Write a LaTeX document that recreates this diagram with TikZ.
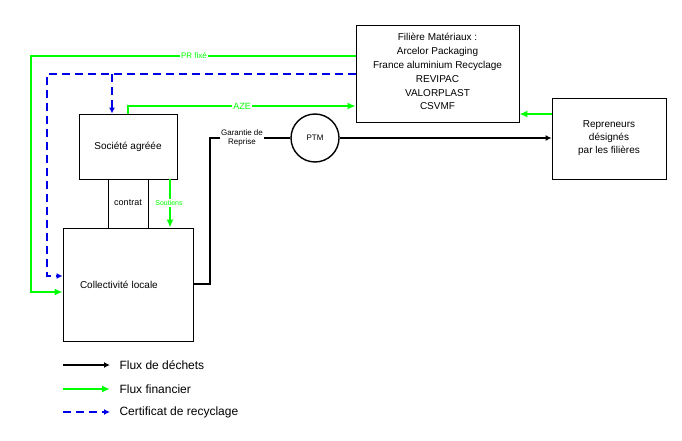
\documentclass[tikz,border=0pt]{standalone}
\usepackage{fontspec}
\setmainfont{Liberation Sans}
\usetikzlibrary{arrows.meta}
\definecolor{lgreen}{RGB}{0,255,0}
\definecolor{dblue}{RGB}{0,0,230}
\begin{document}
\begin{tikzpicture}[x=1pt,y=-1pt,
 box/.style={draw,thick,fill=white,inner sep=0,align=center,font=\fontsize{10}{13}\selectfont},
 blk/.style={line width=1.6pt,-{Latex[length=6pt,width=6pt]}},
 grn/.style={lgreen,line width=2.6pt,-{Latex[length=8pt,width=7pt]}},
 blu/.style={dblue,line width=1.6pt,dash pattern=on 8pt off 5pt,-{Latex[length=6pt,width=6pt]}},
 lab/.style={fill=white,inner sep=1pt,font=\fontsize{8}{9}\selectfont}]
\useasboundingbox (0,0) rectangle (682,441);
\node[box,minimum width=163,minimum height=97] (fil) at (437.5,73.5) {};
\node[align=center,font=\fontsize{10}{13.8}\selectfont,anchor=north] at (437.5,30) {Filière Matériaux :\\Arcelor Packaging\\France aluminium Recyclage\\REVIPAC\\VALORPLAST\\CSVMF};
\node[box,minimum width=114,minimum height=81] (rep) at (609,138.5) {Repreneurs\\désignés\\par les filières};
\node[box,minimum width=98,minimum height=65] (soc) at (128,146.5) {Société agréée};
\node[box,minimum width=130,minimum height=113,text width=120,align=left] (col) at (128,284.5) {\hspace{12pt}Collectivité locale};
\node[draw,line width=1.4pt,circle,minimum size=48,inner sep=0,font=\fontsize{8}{9}\selectfont] (ptm) at (315,138) {PTM};
% contrat
\draw[thick] (108,179) -- (108,228) (148,179) -- (148,228);
\node[font=\fontsize{9}{10}\selectfont] (ctr) at (128,203) {contrat};
% PR fixé
\coordinate (pr1) at (356,56);
\draw[grn] (pr1) -- (31,56) -- (31,292) -- (col.west|-0,292);
\node[lab,text=lgreen] (prl) at (194,56) {PR fixé};
% blue dashed
\draw[blu] (fil.west|-0,74) -- (47,74) -- (47,276) -- (col.west|-0,276);
\draw[blu] (112,74) -- (soc.north-|112,0);
% AZE
\draw[grn] (soc.north-|128,0) -- (128,106) -- (fil.west|-0,106);
\node[lab,text=lgreen,font=\fontsize{9}{10}\selectfont] (aze) at (242,106) {AZE};
% repreneurs -> filiere
\draw[grn] (rep.west|-0,114) -- (fil.east|-0,114);
% Soutiens
\draw[grn] (soc.south-|170,0) -- (col.north-|170,0);
\node[lab,text=lgreen,font=\fontsize{7}{8}\selectfont] (sou) at (169,203) {Soutiens};
% black flow
\draw[line width=1.6pt] (col.east|-0,284) -- (210,284) -- (210,138) -- (ptm.west);
\node[lab,align=center] (gar) at (242,138) {Garantie de\\Reprise};
\draw[blk] (ptm.east) -- (rep.west|-ptm);
% legend
\coordinate (l1) at (63,365); \coordinate (l1e) at (110,365);
\coordinate (l2) at (63,389); \coordinate (l2e) at (110,389);
\coordinate (l3) at (63,412); \coordinate (l3e) at (110,412);
\draw[blk] (l1) -- (l1e);
\draw[grn] (l2) -- (l2e);
\draw[blu] (l3) -- (l3e);
\node[anchor=west,font=\fontsize{12}{14}\selectfont] (t1) at (116,365) {Flux de déchets};
\node[anchor=west,font=\fontsize{12}{14}\selectfont] (t2) at (116,389) {Flux financier};
\node[anchor=west,font=\fontsize{12}{14}\selectfont] (t3) at (116,412) {Certificat de recyclage};
\end{tikzpicture}
\end{document}
